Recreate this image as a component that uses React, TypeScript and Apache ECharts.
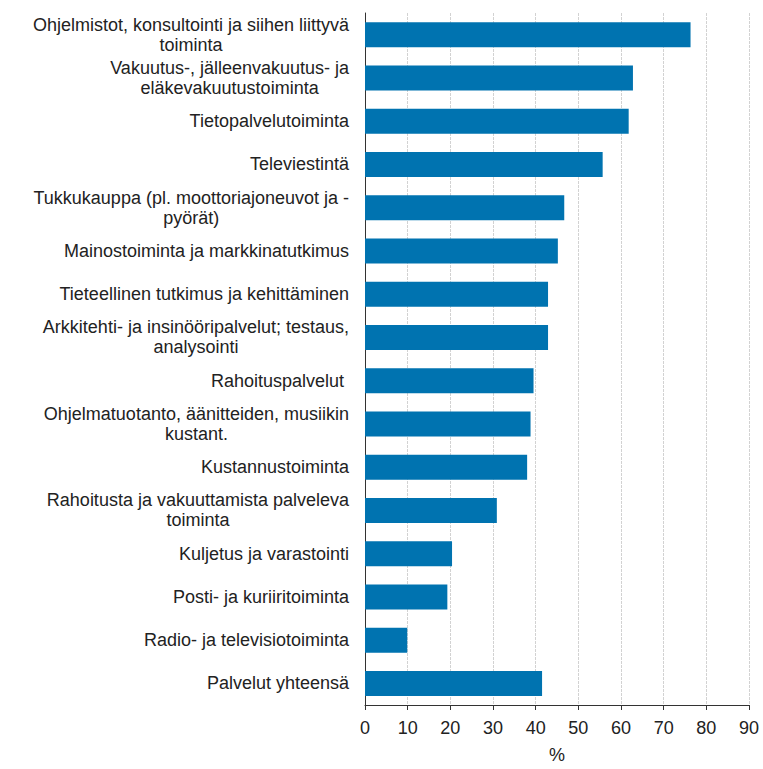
import React, { useEffect, useRef } from "react";
import * as echarts from "echarts";

const categories: string[] = [
  "Ohjelmistot, konsultointi ja siihen liittyvä\ntoiminta",
  "Vakuutus-, jälleenvakuutus- ja\neläkevakuutustoiminta",
  "Tietopalvelutoiminta",
  "Televiestintä",
  "Tukkukauppa (pl. moottoriajoneuvot ja -\npyörät)",
  "Mainostoiminta ja markkinatutkimus",
  "Tieteellinen tutkimus ja kehittäminen",
  "Arkkitehti- ja insinööripalvelut; testaus,\nanalysointi",
  "Rahoituspalvelut ",
  "Ohjelmatuotanto, äänitteiden, musiikin\nkustant.",
  "Kustannustoiminta",
  "Rahoitusta ja vakuuttamista palveleva\ntoiminta",
  "Kuljetus ja varastointi",
  "Posti- ja kuriiritoiminta",
  "Radio- ja televisiotoiminta",
  "Palvelut yhteensä",
];

const values: number[] = [
  76.3, 62.8, 61.8, 55.7, 46.7, 45.2, 42.9, 42.9, 39.5, 38.8, 38.0, 30.9, 20.4,
  19.3, 9.9, 41.5,
];

const xAxisName = "%";
const xMin = 0;
const xMax = 90;
const xInterval = 10;

const FONT = "'Liberation Sans', Arial, sans-serif";

export default function App() {
  const ref = useRef<HTMLDivElement>(null);

  useEffect(() => {
    document.body.style.margin = "0";
    if (!ref.current) return;
    const chart = echarts.init(ref.current, undefined, { renderer: "svg" });
    chart.setOption({
      animation: false,
      backgroundColor: "#ffffff",
      grid: { left: 365, right: 14, top: 13, bottom: 55, containLabel: false },
      xAxis: {
        type: "value",
        min: xMin,
        max: xMax,
        interval: xInterval,
        name: xAxisName,
        nameLocation: "middle",
        nameGap: 41,
        nameTextStyle: { fontFamily: FONT, fontSize: 18, color: "#222" },
        axisLine: { show: true, lineStyle: { color: "#333", width: 1 } },
        axisTick: { show: true, length: 5, lineStyle: { color: "#333" } },
        axisLabel: { fontFamily: FONT, fontSize: 18, color: "#222", margin: 14 },
        splitLine: {
          show: true,
          lineStyle: { color: "#d2d2d2", width: 1, type: [3, 1] },
        },
      },
      yAxis: {
        type: "category",
        inverse: true,
        data: categories,
        axisLine: { show: true, lineStyle: { color: "#333", width: 1 } },
        axisTick: { show: false },
        splitLine: { show: false },
        axisLabel: {
          interval: 0,
          margin: 16,
          color: "#222",
          fontFamily: FONT,
          fontSize: 18,
          lineHeight: 20,
          formatter: (v: string) =>
            v
              .split("\n")
              .map((l) => `{c|${l}}`)
              .join("\n"),
          rich: {
            c: {
              align: "center",
              fontFamily: FONT,
              fontSize: 18,
              lineHeight: 20,
              color: "#222",
            },
          },
        },
      },
      series: [
        {
          type: "bar",
          data: values,
          barWidth: 25,
          itemStyle: { color: "#0073B0" },
        },
      ],
    });
    return () => chart.dispose();
  }, []);

  return <div ref={ref} style={{ width: 763, height: 769 }} />;
}
